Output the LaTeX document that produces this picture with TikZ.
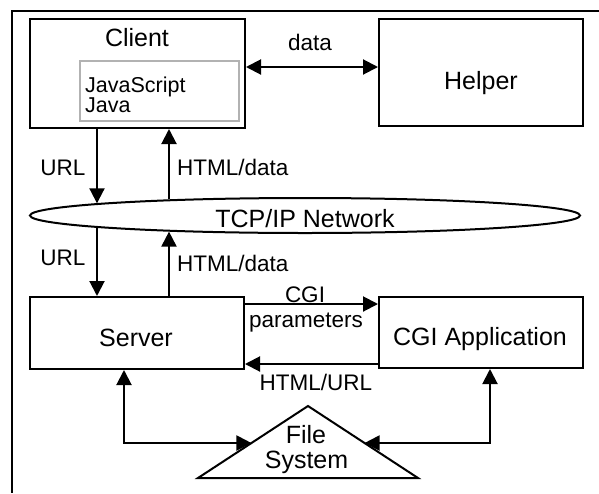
\documentclass[tikz,border=0pt]{standalone}
\usepackage{fontspec}
\setmainfont{Liberation Sans}
\usetikzlibrary{arrows.meta,shapes.geometric,calc}
\begin{document}
\begin{tikzpicture}[x=1pt,y=-1pt,
  box/.style={draw, line width=2pt, rectangle, inner sep=0pt},
  big/.style={font=\fontsize{25}{28}\selectfont, inner sep=0pt, anchor=base},
  lab/.style={font=\fontsize{22.5}{26}\selectfont, inner sep=0pt, anchor=base},
  tip/.tip={Triangle[length=15pt,width=15pt]},
  arr/.style={line width=2pt, -tip},
  darr/.style={line width=2pt, tip-tip},
]
\useasboundingbox (0,0) rectangle (599,493);
\draw[line width=2.5pt] (599,11) -- (12,11) -- (12,493);

% boxes
\node[box, minimum width=215pt, minimum height=109pt] (client) at (137.5,73.5) {};
\node[draw=black!30, line width=1.5pt, minimum width=159pt, minimum height=60pt, inner sep=0pt] (script) at (159.5,91) {};
\node[big] (clientlbl) at (137,46) {Client};
\node[lab, font=\fontsize{21.5}{24}\selectfont, anchor=base west] (js) at (85,92) {JavaScript};
\node[lab, font=\fontsize{21.5}{24}\selectfont, anchor=base west] (java) at (85,112.5) {Java};

\node[box, minimum width=204pt, minimum height=107pt] (helper) at (481,72.5) {};
\node[big] (helperlbl) at (481,89) {Helper};

\node[draw, ellipse, line width=2pt, minimum width=550pt, minimum height=35pt, inner sep=0pt] (net) at (305,215.5) {};
\node[big] (netlbl) at (305,227) {TCP/IP Network};

\node[box, minimum width=214pt, minimum height=72pt] (server) at (137,333) {};
\node[big] (serverlbl) at (136,346) {Server};

\node[box, minimum width=204pt, minimum height=71pt] (cgi) at (481,332.5) {};
\node[big] (cgilbl) at (480,345) {CGI Application};

% file system triangle
\coordinate (tA) at (308,406);
\coordinate (tL) at (198,478);
\coordinate (tR) at (418,478);
\draw[line width=2pt, line join=miter] (tA) -- (tL) -- (tR) -- cycle;
\coordinate (fsL) at ($(tA)!0.514!(tL)$);
\coordinate (fsR) at ($(tA)!0.514!(tR)$);
\node[big] (filelbl) at (306,443) {File};
\node[big] (systemlbl) at (306.5,468) {System};

% points on the network ellipse border
\coordinate (nUrlT) at ($(net.center)+(-208,-12.2)$);
\coordinate (nUrlB) at ($(net.center)+(-208,12.2)$);
\coordinate (nHtmT) at ($(net.center)+(-136,-16.1)$);
\coordinate (nHtmB) at ($(net.center)+(-136,16.1)$);

% connectors
\coordinate (yd) at (0,67);
\draw[darr] (client.east |- yd) -- (helper.west |- yd);
\node[lab] (datalbl) at (310,50) {data};

\draw[arr] (client.south -| nUrlT) -- (nUrlT);
\draw[arr] (nHtmT) -- (client.south -| nHtmT);
\node[lab] (urlA) at (63,175) {URL};
\node[lab, anchor=base west] (htmlA) at (177,175) {HTML/data};

\draw[arr] (nUrlB) -- (server.north -| nUrlB);
\draw[arr] (server.north -| nHtmB) -- (nHtmB);
\node[lab] (urlB) at (63,265) {URL};
\node[lab, anchor=base west] (htmlB) at (177,271) {HTML/data};

\coordinate (yc) at (0,304);
\coordinate (yh) at (0,364);
\draw[arr] (server.east |- yc) -- (cgi.west |- yc);
\draw[arr] (cgi.west |- yh) -- (server.east |- yh);
\node[lab] (cgitop) at (305,302) {CGI};
\node[lab] (cgibot) at (306,327) {parameters};
\node[lab] (htmlurl) at (316,390) {HTML/URL};

\draw[darr] ([xshift=-13pt]server.south) |- (fsL);
\draw[darr] ([xshift=9pt]cgi.south) |- (fsR);
\end{tikzpicture}
\end{document}
